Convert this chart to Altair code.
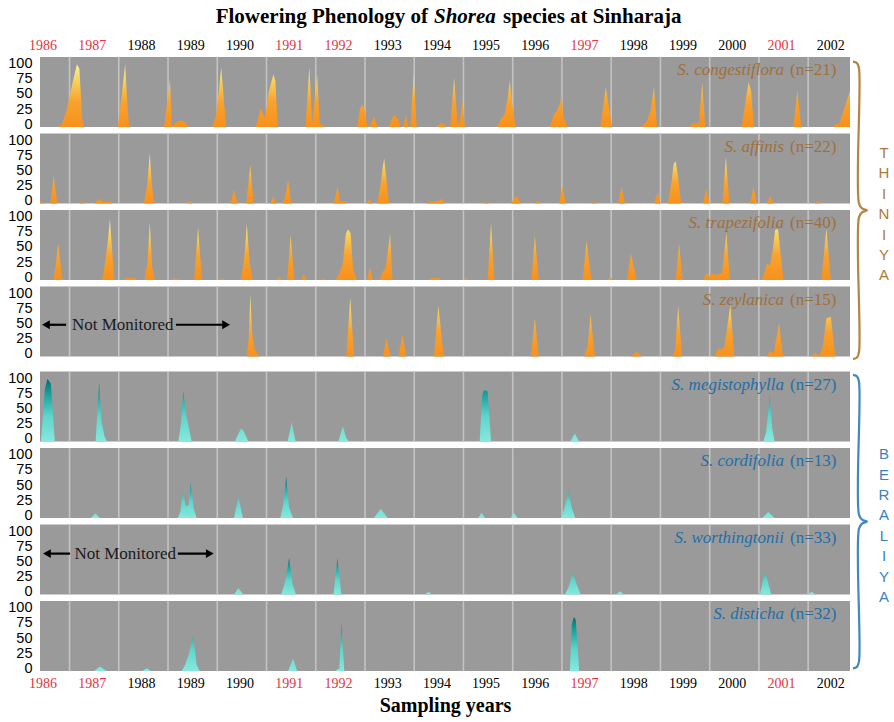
import altair as alt
import pandas as pd

# ---------------------------------------------------------------- data
species = ["S. congestiflora", "S. affinis", "S. trapezifolia", "S. zeylanica",
           "S. megistophylla", "S. cordifolia", "S. worthingtonii", "S. disticha"]
sample_n = [21, 22, 40, 15, 27, 13, 33, 32]
forest_type = ["Thiniya"] * 4 + ["Beraliya"] * 4

years = list(range(1986, 2003))
mass_flowering_years = [1986, 1987, 1991, 1992, 1997, 2001]
percent_ticks = [0, 25, 50, 75, 100]

# flowering intensity (% of trees) as (decimal year, percent) vertices
congestiflora = [
    (1986.40, 0),
    (1986.76, 0), (1986.85, 5), (1986.95, 28), (1987.07, 70), (1987.15, 95), (1987.20, 88), (1987.26, 10), (1987.30, 0),
    (1987.98, 0), (1988.06, 50), (1988.13, 95), (1988.17, 40), (1988.21, 0),
    (1988.92, 0), (1989.04, 72), (1989.08, 0), (1989.14, 5), (1989.24, 10), (1989.34, 8), (1989.40, 0),
    (1989.90, 0), (1989.97, 15), (1990.04, 60), (1990.08, 90), (1990.12, 55), (1990.18, 0),
    (1990.78, 0), (1990.88, 28), (1990.97, 14), (1991.05, 55), (1991.14, 80), (1991.18, 70), (1991.23, 0),
    (1991.79, 0), (1991.87, 90), (1991.93, 5), (1992.03, 80), (1992.08, 5), (1992.12, 3), (1992.20, 0),
    (1992.84, 0), (1992.90, 28), (1992.95, 34), (1993.00, 25), (1993.05, 0), (1993.10, 0), (1993.18, 16), (1993.26, 0),
    (1993.48, 0), (1993.56, 15), (1993.61, 17), (1993.68, 10), (1993.72, 0), (1993.78, 0), (1993.83, 19), (1993.88, 0),
    (1993.92, 0), (1993.99, 80), (1994.05, 0),
    (1994.45, 0), (1994.56, 7), (1994.65, 0), (1994.73, 0), (1994.81, 75), (1994.88, 5), (1994.92, 5), (1994.98, 40), (1995.03, 0),
    (1995.68, 0), (1995.76, 12), (1995.84, 20), (1995.90, 45), (1995.94, 70), (1996.00, 30), (1996.06, 0),
    (1996.76, 0), (1996.83, 18), (1996.90, 25), (1996.96, 35), (1996.99, 50), (1997.03, 15), (1997.11, 0),
    (1997.78, 0), (1997.89, 60), (1998.02, 0),
    (1998.62, 0), (1998.72, 8), (1998.80, 25), (1998.87, 60), (1998.93, 0),
    (1999.60, 0), (1999.64, 5), (1999.78, 6), (1999.85, 67), (1999.91, 0),
    (2000.65, 0), (2000.73, 40), (2000.79, 68), (2000.84, 55), (2000.90, 0),
    (2001.70, 0), (2001.78, 55), (2001.86, 0),
    (2002.50, 0), (2002.55, 4), (2002.63, 4), (2002.85, 55),
]

affinis = [
    (1986.40, 3), (1986.50, 0),
    (1986.61, 0), (1986.68, 42), (1986.75, 0),
    (1987.20, 0), (1987.25, 3), (1987.30, 0), (1987.50, 0), (1987.59, 7), (1987.68, 3), (1987.78, 2), (1987.82, 4), (1987.86, 0),
    (1988.51, 0), (1988.58, 30), (1988.63, 76), (1988.67, 30), (1988.72, 0),
    (1989.40, 0), (1989.45, 4), (1989.50, 0),
    (1990.27, 0), (1990.34, 21), (1990.41, 0),
    (1990.59, 0), (1990.67, 58), (1990.74, 0),
    (1991.08, 0), (1991.14, 11), (1991.20, 0),
    (1991.33, 0), (1991.38, 12), (1991.44, 35), (1991.50, 0),
    (1992.37, 0), (1992.44, 25), (1992.50, 3), (1992.60, 3), (1992.63, 0),
    (1993.04, 0), (1993.09, 7), (1993.14, 0),
    (1993.25, 0), (1993.32, 30), (1993.36, 55), (1993.39, 68), (1993.43, 40), (1993.49, 0),
    (1994.25, 0), (1994.32, 3), (1994.50, 4), (1994.56, 7), (1994.62, 0),
    (1995.41, 0), (1995.46, 3), (1995.51, 0),
    (1995.97, 0), (1996.03, 8), (1996.08, 11), (1996.17, 0),
    (1996.45, 0), (1996.50, 4), (1996.55, 0),
    (1996.94, 0), (1997.01, 26), (1997.08, 0),
    (1997.60, 0), (1997.65, 3), (1997.70, 0),
    (1998.14, 0), (1998.21, 25), (1998.28, 0),
    (1998.87, 0), (1998.94, 16), (1999.01, 0),
    (1999.15, 0), (1999.22, 30), (1999.27, 60), (1999.31, 64), (1999.36, 40), (1999.42, 0),
    (1999.86, 0), (1999.93, 21), (2000.00, 0),
    (2000.26, 0), (2000.33, 70), (2000.40, 0),
    (2000.82, 0), (2000.89, 25), (2000.96, 0),
    (2001.16, 0), (2001.23, 11), (2001.30, 0),
    (2002.14, 0), (2002.19, 3), (2002.24, 0),
    (2002.85, 0),
]

trapezifolia = [
    (1986.40, 0),
    (1986.68, 0), (1986.77, 55), (1986.85, 2), (1986.90, 0),
    (1987.66, 0), (1987.72, 25), (1987.78, 60), (1987.82, 92), (1987.87, 40), (1987.91, 0),
    (1988.10, 0), (1988.15, 3), (1988.32, 3), (1988.38, 0),
    (1988.52, 0), (1988.58, 25), (1988.63, 87), (1988.68, 20), (1988.73, 0),
    (1989.05, 0), (1989.15, 3), (1989.25, 0),
    (1989.53, 0), (1989.61, 80), (1989.69, 0),
    (1990.04, 0), (1990.09, 3), (1990.14, 0),
    (1990.48, 0), (1990.55, 35), (1990.60, 85), (1990.66, 25), (1990.72, 0),
    (1991.20, 0), (1991.26, 4), (1991.32, 0),
    (1991.42, 0), (1991.49, 68), (1991.57, 0),
    (1991.70, 0), (1991.75, 9), (1991.82, 0),
    (1992.10, 0), (1992.15, 3), (1992.20, 0),
    (1992.40, 0), (1992.48, 10), (1992.55, 25), (1992.61, 70), (1992.66, 77), (1992.71, 70), (1992.76, 15), (1992.84, 0),
    (1993.04, 0), (1993.10, 19), (1993.16, 0),
    (1993.30, 0), (1993.36, 12), (1993.42, 18), (1993.51, 70), (1993.56, 0),
    (1994.28, 0), (1994.35, 3), (1994.50, 3), (1994.56, 0),
    (1995.00, 0), (1995.05, 3), (1995.10, 0),
    (1995.49, 0), (1995.56, 85), (1995.63, 0),
    (1996.38, 0), (1996.45, 67), (1996.53, 0),
    (1997.42, 0), (1997.50, 59), (1997.60, 0),
    (1997.92, 0), (1997.98, 4), (1998.04, 0),
    (1998.32, 0), (1998.40, 40), (1998.52, 0),
    (1999.31, 0), (1999.38, 55), (1999.45, 0),
    (1999.87, 0), (1999.94, 11), (2000.00, 5), (2000.06, 9), (2000.16, 8), (2000.25, 10), (2000.34, 72), (2000.41, 0),
    (2000.85, 0), (2000.89, 3), (2000.95, 0),
    (2001.05, 0), (2001.10, 8), (2001.16, 24), (2001.22, 22), (2001.28, 45), (2001.33, 76), (2001.39, 77), (2001.44, 40), (2001.50, 0),
    (2002.27, 0), (2002.37, 78), (2002.46, 0),
    (2002.85, 0),
]

zeylanica = [
    (1990.00, 0),
    (1990.60, 0), (1990.64, 30), (1990.67, 94), (1990.71, 35), (1990.76, 10), (1990.86, 0),
    (1992.62, 0), (1992.70, 89), (1992.78, 0),
    (1993.36, 0), (1993.44, 27), (1993.52, 0),
    (1993.68, 0), (1993.76, 33), (1993.84, 0),
    (1994.40, 0), (1994.49, 77), (1994.60, 0),
    (1996.37, 0), (1996.45, 58), (1996.53, 0),
    (1997.45, 0), (1997.52, 15), (1997.58, 64), (1997.67, 0),
    (1998.40, 0), (1998.51, 7), (1998.63, 0),
    (1999.25, 0), (1999.30, 12), (1999.36, 77), (1999.44, 0),
    (2000.10, 0), (2000.17, 12), (2000.24, 10), (2000.30, 15), (2000.42, 78), (2000.50, 0),
    (2001.15, 0), (2001.22, 8), (2001.30, 5), (2001.41, 50), (2001.49, 0),
    (2002.07, 0), (2002.14, 6), (2002.22, 0), (2002.30, 15), (2002.37, 58), (2002.46, 60), (2002.55, 0),
    (2002.85, 0),
]

megistophylla = [
    (1986.40, 0), (1986.42, 0), (1986.50, 80), (1986.55, 95), (1986.62, 88), (1986.70, 0),
    (1987.53, 0), (1987.60, 90), (1987.65, 30), (1987.71, 8), (1987.76, 0),
    (1989.21, 0), (1989.26, 25), (1989.31, 77), (1989.37, 40), (1989.48, 0),
    (1990.36, 0), (1990.43, 12), (1990.49, 20), (1990.54, 15), (1990.63, 0),
    (1991.43, 0), (1991.51, 29), (1991.59, 0),
    (1992.46, 0), (1992.55, 23), (1992.62, 5), (1992.68, 0),
    (1995.33, 0), (1995.38, 70), (1995.42, 78), (1995.49, 76), (1995.56, 0),
    (1997.17, 0), (1997.26, 12), (1997.35, 0),
    (2001.09, 0), (2001.15, 15), (2001.22, 70), (2001.27, 20), (2001.32, 0),
    (2002.85, 0),
]

cordifolia = [
    (1986.40, 0),
    (1987.43, 0), (1987.52, 7), (1987.62, 0),
    (1989.20, 0), (1989.25, 10), (1989.30, 40), (1989.36, 18), (1989.42, 20), (1989.46, 54), (1989.52, 15), (1989.58, 0),
    (1990.34, 0), (1990.43, 32), (1990.52, 0),
    (1991.28, 0), (1991.34, 20), (1991.40, 63), (1991.46, 15), (1991.54, 0),
    (1993.18, 0), (1993.32, 14), (1993.46, 0),
    (1995.30, 0), (1995.37, 8), (1995.44, 0),
    (1995.96, 0), (1996.03, 8), (1996.10, 0),
    (1996.99, 0), (1997.05, 15), (1997.13, 40), (1997.20, 15), (1997.27, 0),
    (2001.07, 0), (2001.19, 9), (2001.32, 0),
    (2002.85, 0),
]

worthingtonii = [
    (1990.00, 0),
    (1990.34, 0), (1990.43, 10), (1990.53, 0),
    (1991.30, 0), (1991.38, 20), (1991.46, 56), (1991.53, 15), (1991.60, 0),
    (1992.36, 0), (1992.44, 55), (1992.52, 0),
    (1994.22, 0), (1994.29, 4), (1994.36, 0),
    (1997.06, 0), (1997.14, 12), (1997.22, 33), (1997.30, 15), (1997.38, 0),
    (1998.10, 0), (1998.18, 5), (1998.26, 0),
    (2001.02, 0), (2001.12, 34), (2001.18, 20), (2001.25, 0),
    (2002.00, 0), (2002.07, 4), (2002.15, 0),
    (2002.85, 0),
]

disticha = [
    (1986.40, 0),
    (1987.50, 0), (1987.62, 7), (1987.75, 0),
    (1988.48, 0), (1988.57, 4), (1988.65, 0),
    (1989.28, 0), (1989.35, 10), (1989.42, 25), (1989.51, 54), (1989.58, 10), (1989.64, 0),
    (1991.44, 0), (1991.54, 19), (1991.62, 0),
    (1992.40, 0), (1992.45, 3), (1992.48, 3), (1992.52, 74), (1992.58, 0),
    (1997.16, 0), (1997.20, 70), (1997.24, 82), (1997.28, 78), (1997.35, 0),
    (2002.85, 0),
]

series = [congestiflora, affinis, trapezifolia, zeylanica,
          megistophylla, cordifolia, worthingtonii, disticha]

# ---------------------------------------------------------------- layout
X_MIN, X_MAX = 1986.4, 2002.85          # sampling window on the x axis
STEP, GROUP_GAP, PANEL_H = 116, 13, 106  # stacked-panel geometry in y units
Y_MAX = 931
PLOT_W, PLOT_H = 810, 614
PX_X = (X_MAX - X_MIN) / PLOT_W          # years per pixel
PX_Y = Y_MAX / PLOT_H                    # y units per pixel

BROWN, BLUE = "#a0703a", "#1f6fa8"
BRACE_BROWN, BRACE_BLUE = "#b5843f", "#3f88c2"


def panel_base(i):
    k = 7 - i
    return k * STEP + (GROUP_GAP if k >= 4 else 0)


bases = [panel_base(i) for i in range(8)]

rows = []
for i, pts in enumerate(series):
    for x, v in pts:
        rows.append(dict(species=species[i], group=forest_type[i], x=x, v=v,
                         y=bases[i] + v, base=bases[i]))
flower = pd.DataFrame(rows)

panels = pd.DataFrame(dict(species=species, group=forest_type, base=bases,
                           top=[b + PANEL_H for b in bases],
                           n_label=[f"(n={n})" for n in sample_n],
                           x0=X_MIN, x1=X_MAX))
panels["label_y"] = panels["base"] + 86

grid = pd.DataFrame([dict(yr=yr, base=b, top=b + PANEL_H)
                     for b in bases for yr in years[1:]])

# one row per percent tick of every panel, used only to carry the y axis
tick_rows = pd.DataFrame([dict(pos=b + t) for b in bases for t in percent_ticks])

xs = alt.Scale(domain=[X_MIN, X_MAX], nice=False, zero=False)
ys = alt.Scale(domain=[0, Y_MAX], nice=False, zero=False)
group_color = alt.Scale(domain=["Thiniya", "Beraliya"], range=[BROWN, BLUE])

year_label_color = {
    "condition": {"test": f"indexof({mass_flowering_years}, floor(datum.value)) >= 0",
                  "value": "#e3343f"},
    "value": "black",
}
year_axis_common = dict(
    values=[yr + 0.45 for yr in years],
    labelExpr="'' + floor(datum.value)",
    labelColor=year_label_color,
    labelFont="Liberation Serif", labelFontSize=14,
    labelFlush=False, labelOverlap=False,
    domain=False, ticks=False, grid=False,
)
bottom_axis = alt.Axis(orient="bottom", labelPadding=5,
                       title="Sampling years", titleFont="Liberation Serif",
                       titleFontSize=20, titleFontWeight="bold", titleColor="black",
                       titlePadding=5, **year_axis_common)
top_axis = alt.Axis(orient="top", labelPadding=5, title="", **year_axis_common)

# percent labels repeat for each stacked panel
lower_base = bases[3]
local_pct = (f"(datum.value >= {lower_base} ? (datum.value - {lower_base}) % {STEP}"
             f" : datum.value % {STEP})")
# spread the five labels of a panel evenly so neighbouring panels do not collide
label_shift = {0: -2.6, 25: -1.3, 75: 1.3, 100: 2.6}
y_axis = alt.Axis(
    orient="left",
    values=[b + t for b in bases for t in percent_ticks],
    labelExpr=f"'' + {local_pct}",
    labelFont="Liberation Sans", labelFontSize=14.5, labelColor="black",
    labelPadding=8, labelOverlap=False,
    labelOffset={"condition": [{"test": f"{local_pct} == {t}", "value": s}
                               for t, s in label_shift.items()],
                 "value": 0},
    domain=False, ticks=False, grid=False, title="",
)

# invisible carrier for the percent axis
y_guide = alt.Chart(tick_rows).mark_tick(opacity=0).encode(
    y=alt.Y("pos:Q", scale=ys, axis=y_axis),
)

# gray panel backgrounds
background = alt.Chart(panels).mark_rect(color="#9a9a9a").encode(
    x=alt.X("x0:Q", scale=xs, axis=bottom_axis), x2="x1:Q",
    y=alt.Y("base:Q", scale=ys, axis=None), y2="top:Q",
)

# year boundaries inside each panel
gridlines = alt.Chart(grid).mark_rule(color="#c3c3c3", strokeWidth=1.6).encode(
    x=alt.X("yr:Q", scale=xs, axis=top_axis),
    y=alt.Y("base:Q", scale=ys, axis=None), y2="top:Q",
)

orange = alt.Gradient(
    gradient="linear", x1=0, x2=0, y1=1, y2=0,
    stops=[alt.GradientStop(color="#f7911c", offset=0),
           alt.GradientStop(color="#f8a22e", offset=0.4),
           alt.GradientStop(color="#f6d35e", offset=0.75),
           alt.GradientStop(color="#f6f3a0", offset=1)],
)
teal = alt.Gradient(
    gradient="linear", x1=0, x2=0, y1=1, y2=0,
    stops=[alt.GradientStop(color="#86e8dd", offset=0),
           alt.GradientStop(color="#5fd5cb", offset=0.4),
           alt.GradientStop(color="#1ba29e", offset=0.75),
           alt.GradientStop(color="#006f6c", offset=1)],
)


def flowering_area(group, fill):
    return alt.Chart(flower).transform_filter(
        alt.datum.group == group
    ).mark_area(color=fill, interpolate="linear").encode(
        x=alt.X("x:Q", scale=xs, axis=None),
        y=alt.Y("y:Q", scale=ys, axis=None), y2="base:Q",
        detail="species:N",
    )


areas_thiniya = flowering_area("Thiniya", orange)
areas_beraliya = flowering_area("Beraliya", teal)

# species names (italic) and sample sizes
name_labels = alt.Chart(panels).mark_text(
    align="right", baseline="middle", font="Liberation Serif",
    fontSize=17, fontStyle="italic",
).encode(
    x=alt.value(744), y=alt.Y("label_y:Q", scale=ys, axis=None),
    text="species:N", color=alt.Color("group:N", scale=group_color, legend=None),
)
n_labels = alt.Chart(panels).mark_text(
    align="left", baseline="middle", font="Liberation Serif", fontSize=17,
).encode(
    x=alt.value(750), y=alt.Y("label_y:Q", scale=ys, axis=None),
    text="n_label:N", color=alt.Color("group:N", scale=group_color, legend=None),
)

# "Not Monitored" annotations with arrows
nm_rows = [
    dict(y=bases[3] + 48, x_text=1988.08, tail_l=1986.93, tip_l=1986.44,
         tail_r=1989.16, tip_r=1990.26),
    dict(y=bases[6] + 62, x_text=1988.13, tail_l=1987.01, tip_l=1986.46,
         tail_r=1989.20, tip_r=1989.93),
]
head = 4 * PX_X
arrow_rows, head_rows = [], []
for r in nm_rows:
    arrow_rows.append(dict(y=r["y"], a=r["tail_l"], b=r["tip_l"] + head))
    arrow_rows.append(dict(y=r["y"], a=r["tail_r"], b=r["tip_r"] - head))
    head_rows.append(dict(y=r["y"], x=r["tip_l"] + head, dir="left"))
    head_rows.append(dict(y=r["y"], x=r["tip_r"] - head, dir="right"))
nm = pd.DataFrame(nm_rows)
nm["text"] = "Not Monitored"

nm_text = alt.Chart(nm).mark_text(
    font="Liberation Serif", fontSize=17, color="#1a1a1a", baseline="middle",
).encode(
    x=alt.X("x_text:Q", scale=xs, axis=None),
    y=alt.Y("y:Q", scale=ys, axis=None), text="text:N",
)
nm_shafts = alt.Chart(pd.DataFrame(arrow_rows)).mark_rule(
    color="black", strokeWidth=2.2,
).encode(
    x=alt.X("a:Q", scale=xs, axis=None), x2="b:Q",
    y=alt.Y("y:Q", scale=ys, axis=None),
)
nm_heads = alt.Chart(pd.DataFrame(head_rows)).mark_point(
    filled=True, color="black", size=80, opacity=1,
).encode(
    x=alt.X("x:Q", scale=xs, axis=None),
    y=alt.Y("y:Q", scale=ys, axis=None),
    shape=alt.Shape("dir:N", scale=alt.Scale(domain=["left", "right"],
                                             range=["triangle-left", "triangle-right"]),
                    legend=None),
)


# curly braces grouping the two forest types
def brace_points(name, top, bottom):
    xe, xm, xt = X_MAX + 3 * PX_X, X_MAX + 9 * PX_X, X_MAX + 17 * PX_X
    mid = (top + bottom) / 2
    p = PX_Y
    pts = [(xe, top), (xe + 4 * PX_X, top - 1.5 * p), (xm, top - 7 * p),
           (xm, mid + 7 * p), (xm + 3 * PX_X, mid + 2 * p), (xt, mid),
           (xm + 3 * PX_X, mid - 2 * p), (xm, mid - 7 * p),
           (xm, bottom + 7 * p), (xe + 4 * PX_X, bottom + 1.5 * p), (xe, bottom)]
    return [dict(brace=name, i=j, x=x, y=y) for j, (x, y) in enumerate(pts)]


thiniya_top, thiniya_bottom = bases[0] + PANEL_H - 7, bases[3] - 4
beraliya_top, beraliya_bottom = bases[4] + PANEL_H - 5, bases[7] + 4
braces = pd.DataFrame(brace_points("Thiniya", thiniya_top, thiniya_bottom)
                      + brace_points("Beraliya", beraliya_top, beraliya_bottom))
brace_lines = alt.Chart(braces).mark_line(
    interpolate="catmull-rom", strokeWidth=2.2,
).encode(
    x=alt.X("x:Q", scale=xs, axis=None),
    y=alt.Y("y:Q", scale=ys, axis=None),
    order="i:Q", detail="brace:N",
    color=alt.Color("brace:N", scale=alt.Scale(domain=["Thiniya", "Beraliya"],
                                               range=[BRACE_BROWN, BRACE_BLUE]),
                    legend=None),
)

letter_rows = []
for name, top, bottom in [("THINIYA", thiniya_top, thiniya_bottom),
                          ("BERALIYA", beraliya_top, beraliya_bottom)]:
    centre = (top + bottom) / 2 - 6
    spacing = 20.4 * PX_Y
    for j, ch in enumerate(name):
        letter_rows.append(dict(group="Thiniya" if name == "THINIYA" else "Beraliya",
                                ch=ch, y=centre + (len(name) - 1) / 2 * spacing - j * spacing))
letters = alt.Chart(pd.DataFrame(letter_rows)).mark_text(
    font="Liberation Sans", fontSize=15, align="center", baseline="middle",
).encode(
    x=alt.value(844), y=alt.Y("y:Q", scale=ys, axis=None), text="ch:N",
    color=alt.Color("group:N", scale=alt.Scale(domain=["Thiniya", "Beraliya"],
                                               range=["#b07a3a", "#3a82bd"]),
                    legend=None),
)

# title with the genus name in italics
title_parts = pd.DataFrame(dict(
    part=["Flowering Phenology of", "Shorea", "species at Sinharaja"],
    px=[388, 394, 463], align=["right", "left", "left"],
    style=["normal", "italic", "normal"],
))


def title_piece(k):
    row = title_parts.iloc[k]
    return alt.Chart(title_parts.iloc[[k]]).mark_text(
        font="Liberation Serif", fontSize=21, fontWeight="bold",
        fontStyle=row["style"], align=row["align"], baseline="middle", color="black",
    ).encode(x=alt.value(int(row["px"])), y=alt.value(-40), text="part:N")


chart = alt.layer(
    y_guide, background, gridlines, areas_thiniya, areas_beraliya,
    name_labels, n_labels, nm_shafts, nm_heads, nm_text,
    brace_lines, letters, title_piece(0), title_piece(1), title_piece(2),
).resolve_axis(
    x="independent", y="independent"
).resolve_scale(
    color="independent"
).properties(
    width=PLOT_W, height=PLOT_H,
    autosize=alt.AutoSizeParams(type="none"),
    padding={"left": 40, "top": 57, "right": 44, "bottom": 51},
    background="white",
).configure_view(strokeWidth=0)

chart.save("out.html", embed_options={"renderer": "svg", "actions": False})
